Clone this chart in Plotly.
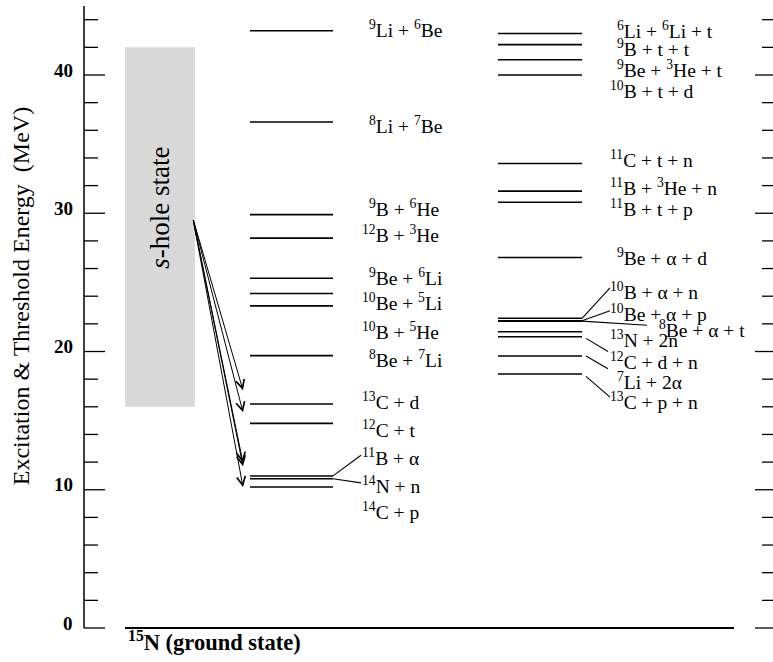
import re
import plotly.graph_objects as go

# ---- data: 15N excitation / threshold energies (MeV) ----
mid_labels = [
    "<sup>9</sup>Li + <sup>6</sup>Be", "<sup>8</sup>Li + <sup>7</sup>Be",
    "<sup>9</sup>B + <sup>6</sup>He", "<sup>12</sup>B + <sup>3</sup>He",
    "<sup>9</sup>Be + <sup>6</sup>Li", "<sup>10</sup>Be + <sup>5</sup>Li",
    "<sup>10</sup>B + <sup>5</sup>He", "<sup>8</sup>Be + <sup>7</sup>Li",
    "<sup>13</sup>C + d", "<sup>12</sup>C + t", "<sup>11</sup>B + α",
    "<sup>14</sup>N + n", "<sup>14</sup>C + p",
]
mid_levels = [43.2, 36.6, 29.9, 28.2, 25.3, 24.2, 23.3, 19.7, 16.2, 14.8, 11.0, 10.8, 10.2]

right_labels = [
    "<sup>6</sup>Li + <sup>6</sup>Li + t", "<sup>9</sup>B + t + t",
    "<sup>9</sup>Be + <sup>3</sup>He + t", "<sup>10</sup>B + t + d",
    "<sup>11</sup>C + t + n", "<sup>11</sup>B + <sup>3</sup>He + n",
    "<sup>11</sup>B + t + p", "<sup>9</sup>Be + α + d",
    "<sup>10</sup>B + α + n", "<sup>10</sup>Be + α + p",
    "<sup>8</sup>Be + α + t", "<sup>13</sup>N + 2n",
    "<sup>12</sup>C + d + n", "<sup>7</sup>Li + 2α", "<sup>13</sup>C + p + n",
]
right_levels = [43.0, 42.2, 41.1, 40.0, 33.6, 31.6, 30.8, 26.8,
                 22.4, 22.22, 22.2, 21.43, 21.07, 19.67, 18.37]

s_hole_range = [16.0, 42.0]
s_hole_origin = 29.6
arrow_targets = [17.2, 15.6, 11.95, 11.7, 10.2]

axis_ticks = list(range(0, 45, 2))
axis_labels = [0, 10, 20, 30, 40]
axis_title = "Excitation & Threshold Energy  (MeV)"
ground_label = "<b><sup>15</sup>N (ground state)</b>"

# ---- layout geometry (x in px across the page) ----
W, H = 773, 662
PX_PER_MEV = 13.825
Y0_PX = 628
y_lo = -(H - Y0_PX) / PX_PER_MEV
y_hi = Y0_PX / PX_PER_MEV

AX_X = 84
MID_X = (250, 333)
RIGHT_X = (498, 582)
BASE_X = (125, 734)
BOX_X = (125, 195)

SERIF = "Liberation Serif, Times New Roman, serif"
LABEL_SIZE = 19.5
SUP_W = 0.5 * LABEL_SIZE * 0.7

# text placement (energy of the label's text line) and label column x
mid_label_y = [43.36, 36.35, 30.4, 28.5, 25.4, 23.6, 21.5, 19.45, 16.4, 14.4, 12.4, 10.35, 8.45]
right_label_y = [43.25, 41.95, 40.4, 38.9, 33.9, 31.9, 30.4, 26.8,
                 24.4, 22.8, 21.6, 20.9, 19.3, 17.9, 16.4]
mid_text_x = [374] * len(mid_labels)
right_text_x = [622] * len(right_labels)
right_text_x[10] = 657 + SUP_W

# leader lines: (label index, x0, x1, y_end)
mid_leaders = [(10, 333, 361, 12.5), (11, 333, 361, 10.5)]
right_leaders = [(8, 582, 610, 24.6), (9, 582, 610, 22.95), (10, 582, 647, 21.9),
                 (12, 586, 608, 20.0), (13, 586, 608, 18.75), (14, 586, 610, 16.7)]
right_leader_start = {12: 20.95, 13: 19.67, 14: 18.2}

fig = go.Figure()

# level lines
def level_trace(x01, levels, width):
    xs, ys = [], []
    for e in levels:
        xs += [x01[0], x01[1], None]
        ys += [e, e, None]
    return go.Scatter(x=xs, y=ys, mode="lines", line=dict(color="black", width=width),
                      hoverinfo="skip", showlegend=False)

fig.add_trace(level_trace(MID_X, mid_levels, 1.6))
fig.add_trace(level_trace(RIGHT_X, right_levels, 1.6))
fig.add_trace(level_trace(BASE_X, [0], 2))

# leader lines
lx, ly = [], []
for i, x0, x1, ye in mid_leaders:
    lx += [x0, x1, None]
    ly += [mid_levels[i], ye, None]
for i, x0, x1, ye in right_leaders:
    lx += [x0, x1, None]
    ly += [right_leader_start.get(i, right_levels[i]), ye, None]
fig.add_trace(go.Scatter(x=lx, y=ly, mode="lines", line=dict(color="black", width=1.1),
                         hoverinfo="skip", showlegend=False))

shapes = []
# s-hole band
shapes.append(dict(type="rect", xref="x", yref="y", x0=BOX_X[0], x1=BOX_X[1],
                   y0=s_hole_range[0], y1=s_hole_range[1],
                   fillcolor="#d9d9d9", line=dict(width=0), layer="below"))
# left axis and tick marks on both sides
shapes.append(dict(type="line", xref="x", yref="y", x0=AX_X, x1=AX_X, y0=0, y1=45.0,
                   line=dict(color="black", width=1.5)))
for t in axis_ticks:
    major = t % 10 == 0
    shapes.append(dict(type="line", xref="x", yref="y", x0=AX_X, x1=AX_X + (21 if major else 14),
                       y0=t, y1=t, line=dict(color="black", width=1.3)))
    shapes.append(dict(type="line", xref="x", yref="y", x0=W - (18 if major else 11), x1=W,
                       y0=t, y1=t, line=dict(color="black", width=1.3)))

annotations = []
for v in axis_labels:
    annotations.append(dict(x=75, y=v, xref="x", yref="y", text=f"<b>{v}</b>",
                             showarrow=False, xanchor="right", yanchor="middle", yshift=5,
                             font=dict(family=SERIF, size=19, color="black")))

def lead_digits(s):
    m = re.match(r"<sup>(\d+)</sup>", s)
    return len(m.group(1)) if m else 0

for labels, ys, xs in ((mid_labels, mid_label_y, mid_text_x),
                       (right_labels, right_label_y, right_text_x)):
    for txt, y, x in zip(labels, ys, xs):
        annotations.append(dict(x=x - lead_digits(txt) * SUP_W, y=y, xref="x", yref="y",
                                text=txt, showarrow=False, xanchor="left", yanchor="middle",
                                font=dict(family=SERIF, size=LABEL_SIZE, color="black")))

# decay arrows from the s-hole state
for e in arrow_targets:
    annotations.append(dict(x=MID_X[0] - 7, y=e, ax=BOX_X[1] - 2, ay=s_hole_origin,
                            xref="x", yref="y", axref="x", ayref="y", text="",
                            showarrow=True, arrowhead=5, arrowsize=1.7, arrowwidth=1.0,
                            arrowcolor="black", standoff=0, startstandoff=0))

annotations.append(dict(x=sum(BOX_X) / 2, y=30.4, xref="x", yref="y",
                        text="<i>s</i>-hole state", textangle=-90, showarrow=False,
                        font=dict(family=SERIF, size=27, color="black")))
annotations.append(dict(x=21, y=24.0, xref="x", yref="y", text=axis_title, textangle=-90,
                        showarrow=False, font=dict(family=SERIF, size=24, color="black")))
annotations.append(dict(x=BASE_X[0] + 1, y=-0.94, xref="x", yref="y", text=ground_label,
                        showarrow=False, xanchor="left", yanchor="middle",
                        font=dict(family=SERIF, size=22.5, color="black")))

fig.update_layout(
    width=W, height=H, margin=dict(l=0, r=0, t=0, b=0),
    paper_bgcolor="white", plot_bgcolor="white",
    xaxis=dict(range=[0, W], visible=False, fixedrange=True),
    yaxis=dict(range=[y_lo, y_hi], visible=False, fixedrange=True),
    shapes=shapes, annotations=annotations, showlegend=False,
)

fig.write_html("out.html")
